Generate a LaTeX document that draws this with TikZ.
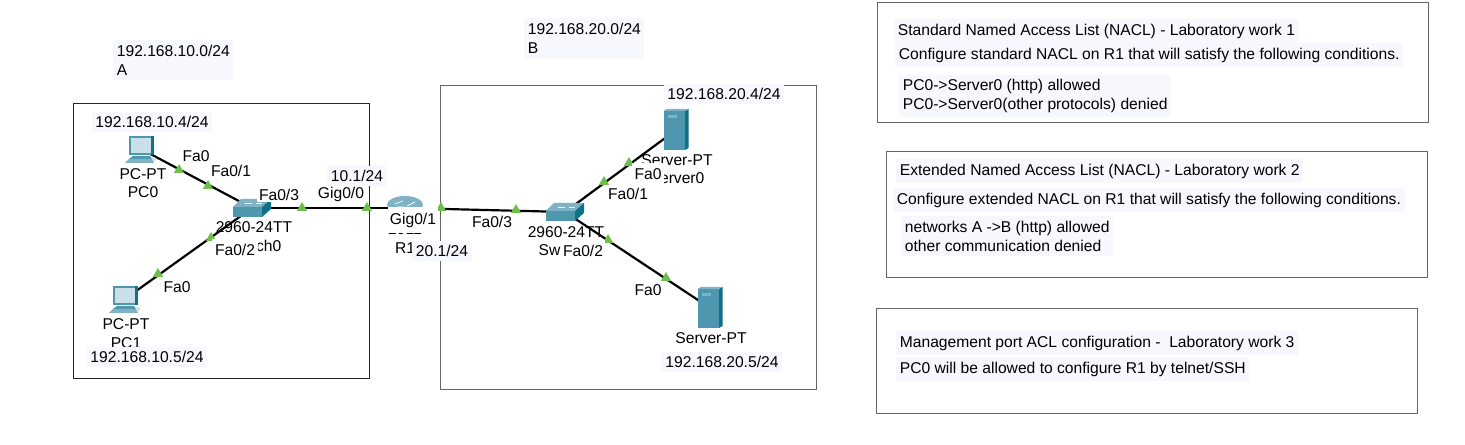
\documentclass[tikz,border=0pt]{standalone}
\usepackage{fontspec}
\setmainfont{Liberation Sans}
\definecolor{labelbg}{HTML}{F7F8FE}
\definecolor{portgreen}{HTML}{6DBE4A}
\definecolor{devfront}{HTML}{4F97AE}
\definecolor{devside}{HTML}{0F7086}
\definecolor{devtop}{HTML}{7FB2C4}
\definecolor{devscreen}{HTML}{C9E0E8}
\definecolor{framegray}{HTML}{666666}
\usetikzlibrary{arrows.meta,positioning,calc,shapes.geometric}

\tikzset{
  pcicon/.pic={
    \fill[devfront] (-12,-13) rectangle (13,6);
    \fill[devscreen] (-10,-11) rectangle (10,4);
    \fill[devside] (10,-13) rectangle (13,6);
    \fill[devfront] (-8,7) -- (9,7) -- (11,10) -- (-12,10) -- cycle;
    \fill[devtop] (-12,10) -- (11,10) -- (13,14) -- (-16,14) -- cycle;
    \fill[devscreen] (13,10) circle (2);
  },
  servericon/.pic={
    \fill[devfront] (-12.5,-19) rectangle (9,20);
    \fill[devside] (9,-19) -- (12.5,-21) -- (12.5,18) -- (9,20) -- cycle;
    \fill[devtop] (-12.5,-19) -- (-9,-21) -- (12.5,-21) -- (9,-19) -- cycle;
    \fill[devtop] (-8,-15) rectangle (1,-12);
  },
  switchicon/.pic={
    \fill[devfront] (-19,-1) rectangle (10,9);
    \fill[devtop] (-19,-1) -- (-11,-9) -- (19,-9) -- (10,-1) -- cycle;
    \fill[devside] (10,-1) -- (19,-9) -- (19,1) -- (10,9) -- cycle;
    \draw[white, thin] (-7,-5) -- (0,-5) (4,-5) -- (10,-5);
  },
  routericon/.pic={
    \fill[devtop] (0,-3) ellipse (18 and 9);
    \draw[white, thin] (-10,-4) -- (-2,-7) (2,-2) -- (10,-6) (-8,-1) -- (0,-1);
  }
}

\begin{document}
\begin{tikzpicture}[x=0.02cm, y=-0.02cm,
    txt/.style={font=\fontsize{8.9}{10.8}\selectfont, inner sep=0pt, align=left},
    iplabel/.style={txt, fill=labelbg, inner xsep=2pt, inner ysep=2.5pt},
    portlabel/.style={txt, fill=white, inner xsep=1pt, inner ysep=1pt},
    devlabel/.style={txt, align=center},
    framebox/.style={draw=framegray, line width=0.55pt},
    device/.style={inner sep=0pt, minimum size=2pt},
    link/.style={draw=black, line width=1.25pt},
    porttri/.style={regular polygon, regular polygon sides=3, fill=portgreen,
                    inner sep=0pt, minimum size=0.24cm}]

  \useasboundingbox (0,0) rectangle (1465,445);

  % network frames
  \draw[framebox, draw=black!85] (73,103) rectangle (369,378);
  \draw[framebox] (440,85) rectangle (816,389);

  % devices
  \node[device] (pc0) at (141,149) {};
  \node[device] (pc1) at (125,299) {};
  \node[device] (sw0) at (252,208) {};
  \node[device] (r1) at (405,208) {};
  \node[device] (sw1) at (565,212) {};
  \node[device] (srv0) at (676,130) {};
  \node[device] (srv1) at (710,308) {};

  \draw[link] (pc0.center) -- (sw0.center);
  \draw[link] (pc1.center) -- (sw0.center);
  \draw[link] (sw0.center) -- (r1.center);
  \draw[link] (r1.center) -- (sw1.center);
  \draw[link] (sw1.center) -- (srv0.center);
  \draw[link] (sw1.center) -- (srv1.center);

  \foreach \name/\px/\py in {a/179/170, b/208/186, c/302/208, d/367/208, e/211/238, f/158/274,
                             g/441/208, h/516/210, i/604/182, j/629/163, k/608/240, l/666/278}
    \node[porttri] (tri\name) at (\px,\py) {};

  \pic at (pc0) {pcicon};
  \pic at (pc1) {pcicon};
  \pic at (sw0) {switchicon};
  \pic at (r1) {routericon};
  \pic at (sw1) {switchicon};
  \pic at (srv0) {servericon};
  \pic at (srv1) {servericon};

  % device names
  \node[devlabel] (pc0type) at (143,174) {PC-PT};
  \node[devlabel] (pc0name) at (143,192) {PC0};
  \node[devlabel] (pc1type) at (126,324) {PC-PT};
  \node[devlabel] (pc1name) at (126,343) {PC1};
  \node[devlabel] (sw0type) at (254,227) {2960-24TT};
  \node[devlabel] (sw0name) at (254,246) {Switch0};
  \node[devlabel] (r1type) at (405,229) {2911};
  \node[devlabel] (r1name) at (405,248) {R1};
  \node[devlabel] (sw1type) at (566,232) {2960-24TT};
  \node[devlabel] (sw1name) at (566,250) {Switch1};
  \node[devlabel] (srv0type) at (677,160) {Server-PT};
  \node[devlabel] (srv0name) at (677,178) {Server0};
  \node[devlabel] (srv1type) at (711,338) {Server-PT};

  % port names
  \node[portlabel] (p1) at (196,156) {Fa0};
  \node[portlabel] (p2) at (231,171) {Fa0/1};
  \node[portlabel] (p3) at (279,195) {Fa0/3};
  \node[portlabel] (p4) at (341,194) {Gig0/0};
  \node[portlabel, inner xsep=1.7pt, inner ysep=3pt] (p5) at (235,250) {Fa0/2};
  \node[portlabel] (p6) at (177,287) {Fa0};
  \node[portlabel, inner ysep=3pt] (p7) at (413,220) {Gig0/1};
  \node[portlabel] (p8) at (492,222) {Fa0/3};
  \node[portlabel, inner ysep=3pt] (p9) at (583,251) {Fa0/2};
  \node[portlabel] (p10) at (628,194) {Fa0/1};
  \node[portlabel, inner xsep=1.5pt, inner ysep=3pt] (p11) at (648,174) {Fa0};
  \node[portlabel] (p12) at (648,290) {Fa0};

  % addresses
  \node[iplabel, anchor=west] (netA) at (113,60) {192.168.10.0/24\\A};
  \node[iplabel, anchor=west] (netB) at (524,38) {192.168.20.0/24\\B};
  \node[iplabel] (ip1) at (152,122) {192.168.10.4/24};
  \node[iplabel] (ip2) at (147,357) {192.168.10.5/24};
  \node[iplabel] (ip3) at (357,176) {10.1/24};
  \node[iplabel] (ip4) at (442,251) {20.1/24};
  \node[iplabel] (ip5) at (724,94) {192.168.20.4/24};
  \node[iplabel] (ip6) at (722,362) {192.168.20.5/24};

  % lab work panels
  \draw[framebox] (877,2) rectangle (1428,122);
  \draw[framebox] (886,151) rectangle (1427,277);
  \draw[framebox] (876,308) rectangle (1417,413);

  \node[iplabel, anchor=west] (lab1a) at (894,31) {Standard Named Access List (NACL) - Laboratory work 1};
  \node[iplabel, anchor=west] (lab1b) at (895,55) {Configure standard NACL on R1 that will satisfy the following conditions.};
  \node[iplabel, anchor=west] (lab1c) at (899,96) {PC0->Server0 (http) allowed\\PC0->Server0(other protocols) denied};
  \node[iplabel, anchor=west] (lab2a) at (896,171) {Extended Named Access List (NACL) - Laboratory work 2};
  \node[iplabel, anchor=west] (lab2b) at (893,200) {Configure extended NACL on R1 that will satisfy the following conditions.};
  \node[iplabel, anchor=west] (lab2c) at (901,236) {networks A ->B (http) allowed\\other communication denied};
  \node[iplabel, anchor=west] (lab3a) at (896,343) {Management port ACL configuration -~~Laboratory work 3};
  \node[iplabel, anchor=west] (lab3b) at (896,369) {PC0 will be allowed to configure R1 by telnet/SSH};
\end{tikzpicture}
\end{document}
